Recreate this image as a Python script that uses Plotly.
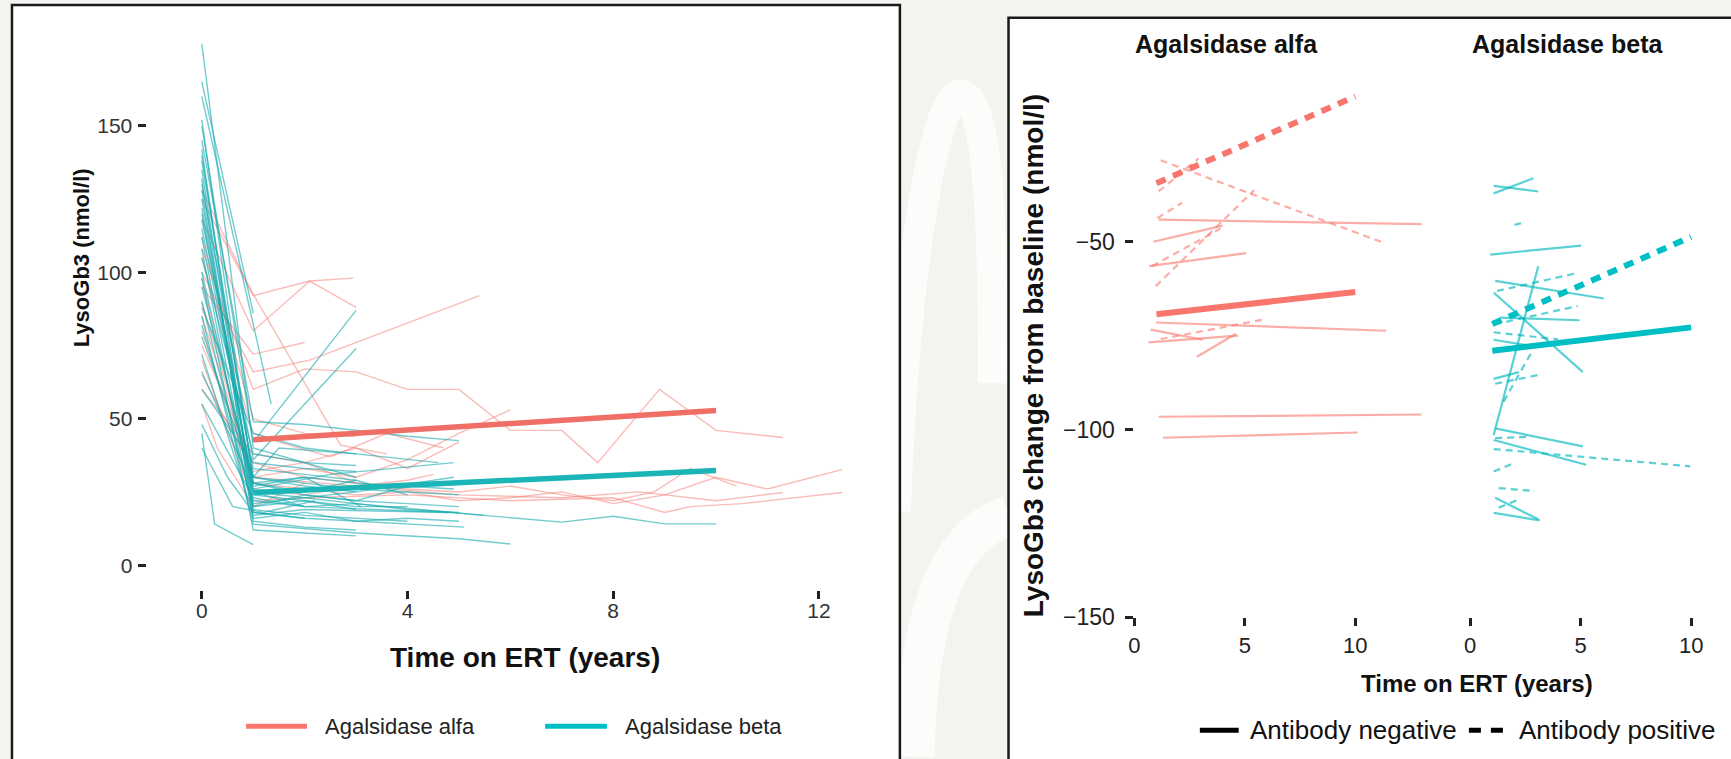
import plotly.graph_objects as go

W, H = 1731, 759

# ---------------- data: left panel (individual LysoGb3 trajectories) ----------------
alfa_times = [
    [0, 1.0, 2.1, 2.95],
    [0, 1.0, 2.1, 3.0],
    [0, 1.0, 2.0],
    [0, 1.0, 2.1, 5.4],
    [0, 1.0, 2.0, 3.0, 4.0, 5.0, 6.0, 7.0, 7.7, 8.9, 10.0, 11.3],
    [0, 0.95, 2.7, 3.6],
    [0, 1, 2, 3, 4, 5, 6],
    [0, 1, 2, 3, 4, 5, 6, 7, 8, 9, 10, 11, 12.45],
    [0, 1, 2, 4, 6, 8, 9, 9.5, 10.5, 12.45],
    [0, 1, 3, 5, 7, 8.5, 10, 11.3],
    [0, 1, 2, 3, 4, 5, 6, 7, 8, 8.8, 9.5, 10.4],
    [0, 1, 1.5, 2.5, 3.6, 4.7],
    [0, 1, 2, 3, 4, 5],
    [0, 0.3, 1.0, 2.0],
    [0, 1, 2, 3.0],
    [0, 1, 2, 3],
    [0, 1, 2, 3, 4, 4.5],
]
alfa_values = [
    [125, 92, 97, 98],
    [118, 80, 97, 88],
    [95, 72, 76],
    [100, 66, 70, 92],
    [108, 60, 67, 66, 60, 60, 46, 46, 35, 60, 46, 43.6],
    [128, 94, 41, 38],
    [85, 30, 33, 30, 36, 45, 53],
    [80, 28, 26, 24, 25, 22, 23, 25, 21, 24, 30, 26, 32.6],
    [70, 22, 23, 24, 22, 23, 18, 20, 21, 24.8],
    [90, 30, 27, 24, 23, 25, 22, 24.8],
    [75, 35, 30, 28, 26, 25, 27, 24, 22, 25, 33, 27],
    [105, 45, 42, 37, 45, 40],
    [60, 38, 35, 40, 33, 42],
    [55, 40, 20, 28],
    [112, 50, 45, 44],
    [65, 32, 35, 28],
    [98, 26, 24, 27, 29, 31],
]
beta_times = [
    [0, 1.0, 3.0],
    [0, 1.0],
    [0, 1.35],
    [0, 1.0, 3.0],
    [0, 1.0, 3.0],
    [0, 1.0, 2.0, 3.0, 4.0, 5.0],
    [0, 1, 2, 3.5, 4.8, 7.0, 8.0, 9.0, 10.0],
    [0, 1, 3, 5, 6],
    [0, 0.25, 1.0],
    [0, 1, 2, 3, 4, 5],
    [0, 1, 2, 3, 4, 5],
    [0, 1, 2, 3, 4, 5.1],
    [0, 1, 2, 3, 4.9],
    [0, 1, 2, 3],
    [0, 1, 2, 3, 4],
    [0, 1, 2, 3, 4, 5.0],
    [0, 1, 2, 3],
    [0, 1, 2, 3, 4],
    [0, 1, 2, 3.0],
    [0, 1, 2, 3, 4, 5],
    [0, 1, 2, 4.0],
    [0, 1, 2, 3],
    [0, 1, 3, 4.9],
    [0, 1, 2, 3.0],
    [0, 1, 2, 4.8],
    [0, 1, 2.5, 4.9],
    [0, 1, 2, 3],
    [0, 1, 2],
    [0, 0.5, 1.0, 2.0],
    [0, 1, 2, 3, 4],
    [0, 1, 2, 3],
    [0, 1, 1.5, 3.0, 4.6],
    [0, 1, 2, 3.0, 5.5],
    [0, 1, 2, 3.1],
    [0, 0.6, 1.2, 2.2],
    [0, 1, 2, 3],
]
beta_values = [
    [178, 40, 30],
    [165, 86],
    [160, 55],
    [150, 42, 87],
    [130, 36, 74],
    [145, 49, 48, 46, 44, 42.5],
    [120, 25, 20, 19, 18, 14.7, 16.7, 14.1, 14.1],
    [85, 14, 11, 9, 7.2],
    [45, 14, 7],
    [140, 30, 28, 26, 25, 24],
    [135, 22, 20, 21, 19, 18],
    [128, 18, 16, 15, 14, 13],
    [122, 27, 30, 28, 26],
    [118, 33, 31, 29],
    [112, 20, 24, 22, 27],
    [108, 16, 18, 15, 16, 15],
    [105, 38, 35, 34],
    [100, 24, 22, 20, 20],
    [98, 12, 11, 10],
    [95, 28, 24, 22, 21, 20],
    [90, 19, 17, 15],
    [88, 45, 40, 38],
    [82, 21, 25, 30],
    [78, 30, 27, 25],
    [72, 17, 19, 18],
    [66, 26, 31, 35],
    [60, 35, 33, 32],
    [55, 23, 20],
    [48, 30, 18, 16],
    [152, 28, 25, 29, 24],
    [142, 20, 22, 19],
    [138, 30, 40, 38, 35],
    [125, 25, 23, 21, 17],
    [115, 28, 30, 20],
    [40, 20, 18, 22],
    [132, 15, 13, 12],
]
# group trend lines (years 1 to 10)
trend_t = [1, 10]
alfa_trend = [42.8, 52.8]
beta_trend = [24.8, 32.3]

# ---------------- data: right panel (change from baseline, per-patient fits) ----------------
# each segment: start time, end time, start value, end value
alfa_neg_t0 = [1.1, 0.86, 0.67, 0.97, 0.74, 0.64, 2.83, 1.1, 1.3]
alfa_neg_t1 = [13.0, 4.0, 5.06, 11.4, 3.1, 4.7, 4.6, 13.0, 10.1]
alfa_neg_v0 = [-44.1, -50.0, -56.5, -71.5, -73.4, -76.8, -80.6, -96.6, -102.2]
alfa_neg_v1 = [-45.3, -45.7, -53.0, -73.7, -76.1, -75.0, -74.5, -96.0, -100.8]

alfa_pos_t0 = [1.19, 1.1, 1.04, 0.97, 0.8, 1.19]
alfa_pos_t1 = [11.3, 2.9, 2.16, 5.43, 3.9, 5.95]
alfa_pos_v0 = [-28.3, -36.6, -43.7, -61.8, -56.5, -75.9]
alfa_pos_v1 = [-50.3, -27.8, -39.6, -36.2, -46.5, -70.6]

beta_neg_t0 = [1.06, 1.06, 0.91, 1.13, 1.06, 1.06, 1.36, 1.06, 1.06, 1.13, 1.06, 1.13, 1.06]
beta_neg_t1 = [2.86, 3.08, 5.02, 6.04, 3.08, 5.1, 4.95, 2.6, 2.2, 5.1, 5.25, 3.08, 3.15]
beta_neg_v0 = [-37.1, -35.1, -53.4, -60.4, -101.5, -63.5, -70.2, -76.1, -86.5, -99.7, -102.8, -118.2, -122.2]
beta_neg_v1 = [-33.1, -36.6, -51.0, -65.1, -56.5, -84.7, -70.9, -77.6, -84.7, -104.5, -109.4, -123.9, -124.2]

beta_pos_t0 = [2.0, 1.21, 1.1, 1.06, 1.51, 1.13, 1.06, 1.13, 1.06, 1.29, 1.29]
beta_pos_t1 = [2.35, 4.87, 4.87, 3.98, 2.78, 3.15, 9.96, 2.78, 1.96, 2.93, 2.18]
beta_pos_v0 = [-45.5, -63.1, -72.0, -74.1, -92.6, -87.8, -105.2, -102.3, -111.2, -115.6, -120.8]
beta_pos_v1 = [-45.0, -58.3, -67.1, -76.0, -79.4, -85.4, -109.8, -101.9, -109.0, -116.4, -118.7]

mean_t = [1, 10]
alfa_neg_mean = [-69.3, -63.4]
alfa_pos_mean = [-34.4, -11.3]
beta_neg_mean = [-79.0, -72.8]
beta_pos_mean = [-71.9, -48.7]

# ---------------- styling ----------------
ALFA = "#F8766D"
BETA = "#00BFC4"
FONT = "Liberation Sans, Arial, sans-serif"


def px(x):
    return x / W


def py(y):
    return 1 - y / H


fig = go.Figure()

# left panel spaghetti
for t, v in zip(alfa_times, alfa_values):
    fig.add_trace(go.Scatter(x=t, y=v, mode="lines", xaxis="x", yaxis="y",
                             line=dict(color="rgba(244,122,114,0.5)", width=1.4),
                             showlegend=False, hoverinfo="skip"))
for t, v in zip(beta_times, beta_values):
    fig.add_trace(go.Scatter(x=t, y=v, mode="lines", xaxis="x", yaxis="y",
                             line=dict(color="rgba(20,170,175,0.6)", width=1.4),
                             showlegend=False, hoverinfo="skip"))
fig.add_trace(go.Scatter(x=trend_t, y=alfa_trend, mode="lines", xaxis="x", yaxis="y",
                         line=dict(color="#EF6F67", width=5.5), showlegend=False))
fig.add_trace(go.Scatter(x=trend_t, y=beta_trend, mode="lines", xaxis="x", yaxis="y",
                         line=dict(color="#1BB5B8", width=5.5), showlegend=False))


def add_segments(t0, t1, v0, v1, xa, ya, color, dash):
    for a, b, c, d in zip(t0, t1, v0, v1):
        fig.add_trace(go.Scatter(x=[a, b], y=[c, d], mode="lines", xaxis=xa, yaxis=ya,
                                 line=dict(color=color, width=2.2, dash=dash),
                                 showlegend=False, hoverinfo="skip"))


ALFA_THIN = "rgba(248,118,109,0.6)"
BETA_THIN = "rgba(0,185,190,0.65)"
add_segments(alfa_neg_t0, alfa_neg_t1, alfa_neg_v0, alfa_neg_v1, "x2", "y2", ALFA_THIN, "solid")
add_segments(alfa_pos_t0, alfa_pos_t1, alfa_pos_v0, alfa_pos_v1, "x2", "y2", ALFA_THIN, "7px,5px")
add_segments(beta_neg_t0, beta_neg_t1, beta_neg_v0, beta_neg_v1, "x3", "y3", BETA_THIN, "solid")
add_segments(beta_pos_t0, beta_pos_t1, beta_pos_v0, beta_pos_v1, "x3", "y3", BETA_THIN, "7px,5px")

for xa, ya, vals, col, dash in [
    ("x2", "y2", alfa_neg_mean, ALFA, "solid"),
    ("x2", "y2", alfa_pos_mean, ALFA, "10px,8px"),
    ("x3", "y3", beta_neg_mean, BETA, "solid"),
    ("x3", "y3", beta_pos_mean, BETA, "10px,8px"),
]:
    fig.add_trace(go.Scatter(x=mean_t, y=vals, mode="lines", xaxis=xa, yaxis=ya,
                             line=dict(color=col, width=6, dash=dash), showlegend=False))

# ---------------- axes ----------------
L_X0, L_PXU = 196.5, 51.6       # left panel: pixel of year 0, pixels per year
L_Y0, L_PYU = 575.0, 2.98       # left panel: pixel of 0 nmol/l, pixels per unit
R_X1, R_X2, R_PXU = 1132.3, 1469.3, 22.17
R_Y50, R_YB = 246.0, 628.0      # right panel: pixel of -50 and of -150
R_PYU = (R_YB - R_Y50) / 100.0


def ticks(size, color):
    return dict(ticks="outside", ticklen=8, tickwidth=3, tickcolor="#222",
                showgrid=False, zeroline=False, showline=False,
                tickfont=dict(family=FONT, size=size, color=color))


fig.update_layout(
    width=W, height=H,
    margin=dict(l=0, r=0, t=0, b=0),
    paper_bgcolor="#f3f4f0",
    plot_bgcolor="rgba(0,0,0,0)",
    showlegend=False,
    xaxis=dict(domain=[px(150), px(872)],
               range=[(150 - L_X0) / L_PXU, (872 - L_X0) / L_PXU],
               anchor="free", position=py(600), tickvals=[0, 4, 8, 12],
               ticklabelstandoff=-6, **ticks(21, "#333")),
    yaxis=dict(domain=[py(592), py(30)],
               range=[(L_Y0 - 592) / L_PYU, (L_Y0 - 30) / L_PYU],
               anchor="free", position=px(140), tickvals=[0, 50, 100, 150],
               ticklabelstandoff=1, **ticks(21, "#333")),
    xaxis2=dict(domain=[px(R_X1), px(R_X1 + R_PXU * 13.6)], range=[0, 13.6],
                anchor="y2", tickvals=[0, 5, 10], ticklabelstandoff=0, **ticks(22, "#222")),
    xaxis3=dict(domain=[px(R_X2), 1], range=[0, (W - R_X2) / R_PXU],
                anchor="y3", tickvals=[0, 5, 10], ticklabelstandoff=0, **ticks(22, "#222")),
    yaxis2=dict(domain=[py(R_YB), py(70)], range=[-150, -150 + (R_YB - 70) / R_PYU],
                anchor="x2", tickvals=[-150, -100, -50], ticklabelstandoff=6,
                **ticks(23, "#222")),
    yaxis3=dict(domain=[py(R_YB), py(70)], range=[-150, -150 + (R_YB - 70) / R_PYU],
                anchor="x3", visible=False),
)


def ppath(points_cmd):
    # build an SVG path in paper units from pixel coordinates
    out = []
    for item in points_cmd:
        if isinstance(item, str):
            out.append(item)
        else:
            out.append(f"{px(item[0]):.5f},{py(item[1]):.5f}")
    return " ".join(out)


# ---------------- panel frames, backdrop ribbons and legend keys ----------------
shapes = [
    dict(type="path", xref="paper", yref="paper", layer="below",
         path=ppath(["M", (893, 520), "C", (903, 250), (935, 92), (958, 96),
                     "C", (984, 100), (991, 210), (990, 390)]),
         line=dict(color="rgba(255,255,255,0.7)", width=30)),
    dict(type="path", xref="paper", yref="paper", layer="below",
         path=ppath(["M", (912, 770), "C", (914, 640), (940, 545), (1006, 525)]),
         line=dict(color="rgba(255,255,255,0.7)", width=40)),
    dict(type="rect", xref="paper", yref="paper", x0=px(6), x1=px(897), y0=-0.2, y1=py(5),
         fillcolor="white", line=dict(color="#1a1a1a", width=2.5), layer="below"),
    dict(type="rect", xref="paper", yref="paper", x0=px(1006), x1=1.1, y0=-0.2, y1=py(18),
         fillcolor="white", line=dict(color="#1a1a1a", width=2.5), layer="below"),
    dict(type="line", xref="paper", yref="paper", x0=px(241), x1=px(302), y0=py(739), y1=py(739),
         line=dict(color=ALFA, width=5)),
    dict(type="line", xref="paper", yref="paper", x0=px(541), x1=px(603), y0=py(739), y1=py(739),
         line=dict(color=BETA, width=5)),
    dict(type="line", xref="paper", yref="paper", x0=px(1198), x1=px(1237), y0=py(743), y1=py(743),
         line=dict(color="black", width=5)),
    dict(type="line", xref="paper", yref="paper", x0=px(1468), x1=px(1503), y0=py(743), y1=py(743),
         line=dict(color="black", width=5, dash="12px,10px")),
]
fig.update_layout(shapes=shapes)


def label(text, x, y, size, xanchor="center", angle=0, color="#111"):
    return dict(text=text, x=px(x), y=py(y), xref="paper", yref="paper", showarrow=False,
                xanchor=xanchor, yanchor="middle", textangle=angle,
                font=dict(family=FONT, size=size, color=color))


ann = [
    label("<b>LysoGb3 (nmol/l)</b>", 76, 262, 22, angle=-90),
    label("<b>Time on ERT (years)</b>", 521, 669, 28),
    label("Agalsidase alfa", 318, 739, 22, xanchor="left", color="#222"),
    label("Agalsidase beta", 619, 739, 22, xanchor="left", color="#222"),
    label("<b>Agalsidase alfa</b>", 1131, 45, 25, xanchor="left"),
    label("<b>Agalsidase beta</b>", 1469, 45, 25, xanchor="left"),
    label("<b>LysoGb3 change from baseline (nmol/l)</b>", 1031, 362, 28, angle=-90),
    label("<b>Time on ERT (years)</b>", 1476, 695, 24),
    label("Antibody negative", 1246, 743, 26, xanchor="left"),
    label("Antibody positive", 1516, 743, 26, xanchor="left"),
]
fig.update_layout(annotations=ann)

fig.write_html("out.html")
